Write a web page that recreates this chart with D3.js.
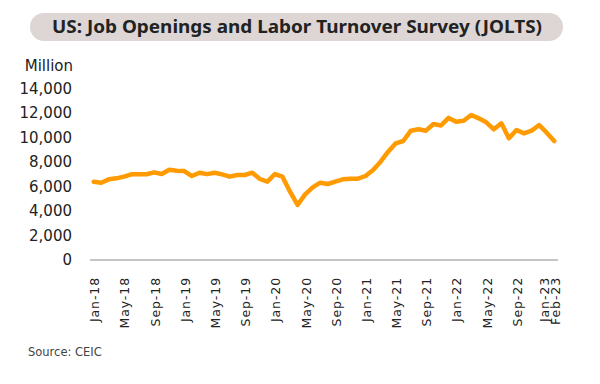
<!DOCTYPE html>
<html>
<head>
<meta charset="utf-8">
<script src="https://cdn.jsdelivr.net/npm/d3@7"></script>
<style>
    body { margin: 0; background: #fff; }
    text { font-family: "DejaVu Sans", sans-serif; fill: #222; }
</style>
</head>
<body>
<svg id="chart" width="600" height="384"></svg>
<script>
// Monthly categories, Jan-18 .. Feb-23
var monthNames = ['Jan', 'Feb', 'Mar', 'Apr', 'May', 'Jun', 'Jul', 'Aug', 'Sep', 'Oct', 'Nov', 'Dec'];
var months = [];
for (var yr = 18; yr <= 23; yr++) {
    monthNames.forEach(function (m, i) {
        if (yr === 23 && i > 1) { return; }
        months.push(m + '-' + yr);
    });
}

// Job openings, thousands
var openings = [
    6390, 6310, 6585, 6667, 6803, 6993, 7000, 7000, 7157, 7020, 7370, 7290,
    7265, 6857, 7127, 7010, 7127, 6993, 6803, 6939, 6939, 7127, 6612, 6392,
    7020, 6803, 5578, 4490, 5360, 5932, 6310, 6204, 6392, 6585, 6640, 6640,
    6857, 7347, 8027, 8843, 9524, 9714, 10557, 10667, 10557, 11102, 10980, 11600,
    11290, 11370, 11837, 11565, 11240, 10667, 11160, 9932, 10612, 10340, 10557, 11020,
    10394, 9714
];

var tickLabels = ['Jan-18', 'May-18', 'Sep-18', 'Jan-19', 'May-19', 'Sep-19', 'Jan-20',
    'May-20', 'Sep-20', 'Jan-21', 'May-21', 'Sep-21', 'Jan-22', 'May-22', 'Sep-22',
    'Jan-23', 'Feb-23'];
var yTicks = [0, 2000, 4000, 6000, 8000, 10000, 12000, 14000];

var svg = d3.select('#chart');

// Title pill
svg.append('rect')
    .attr('x', 30).attr('y', 13)
    .attr('width', 533).attr('height', 28)
    .attr('rx', 14)
    .attr('fill', '#ddd6d5');
svg.append('text')
    .attr('x', 297).attr('y', 33)
    .attr('text-anchor', 'middle')
    .attr('textLength', 490)
    .attr('lengthAdjust', 'spacingAndGlyphs')
    .style('font-family', '"Noto Sans", sans-serif')
    .style('font-size', '18px')
    .style('font-weight', 'bold')
    .text('US: Job Openings and Labor Turnover Survey (JOLTS)');

var x = d3.scalePoint()
    .domain(months)
    .range([90, 558])
    .padding(0.5);

var y = d3.scaleLinear()
    .domain([0, 14000])
    .range([260, 88.5]);

// y labels
svg.append('g').selectAll('text')
    .data(yTicks)
    .enter()
        .append('text')
        .attr('x', 72)
        .attr('y', function (d) { return y(d); })
        .attr('dy', '0.35em')
        .attr('text-anchor', 'end')
        .style('font-size', '15px')
        .text(function (d) { return d3.format(',')(d); });

svg.append('text')
    .attr('x', 73).attr('y', 66)
    .attr('dy', '0.35em')
    .attr('text-anchor', 'end')
    .style('font-size', '15px')
    .text('Million');

// x axis line
svg.append('line')
    .attr('x1', 90).attr('x2', 558)
    .attr('y1', y(0)).attr('y2', y(0))
    .attr('stroke', '#8c8c8c')
    .attr('stroke-width', 1.2);

// x labels; the two last ones sit close, so Jan-23 is nudged left a bit
svg.append('g').selectAll('text')
    .data(tickLabels)
    .enter()
        .append('text')
        .attr('transform', function (d) {
            var nudge = d === 'Jan-23' ? -2 : 1;
            return 'translate(' + (x(d) + nudge) + ',' + 277 + ') rotate(-90)';
        })
        .attr('dy', '0.35em')
        .attr('text-anchor', 'end')
        .style('font-size', '12.5px')
        .style('letter-spacing', '0.9px')
        .text(function (d) { return d; });

// series line
var line = d3.line()
    .x(function (d, i) { return x(months[i]); })
    .y(function (d) { return y(d); });

svg.append('path')
    .datum(openings)
    .attr('d', line)
    .attr('fill', 'none')
    .attr('stroke', '#ff9a00')
    .attr('stroke-width', 4.5)
    .attr('stroke-linejoin', 'round')
    .attr('stroke-linecap', 'round');

svg.append('text')
    .attr('x', 28).attr('y', 356)
    .style('font-size', '11.5px')
    .style('fill', '#444')
    .text('Source: CEIC');
</script>
</body>
</html>
